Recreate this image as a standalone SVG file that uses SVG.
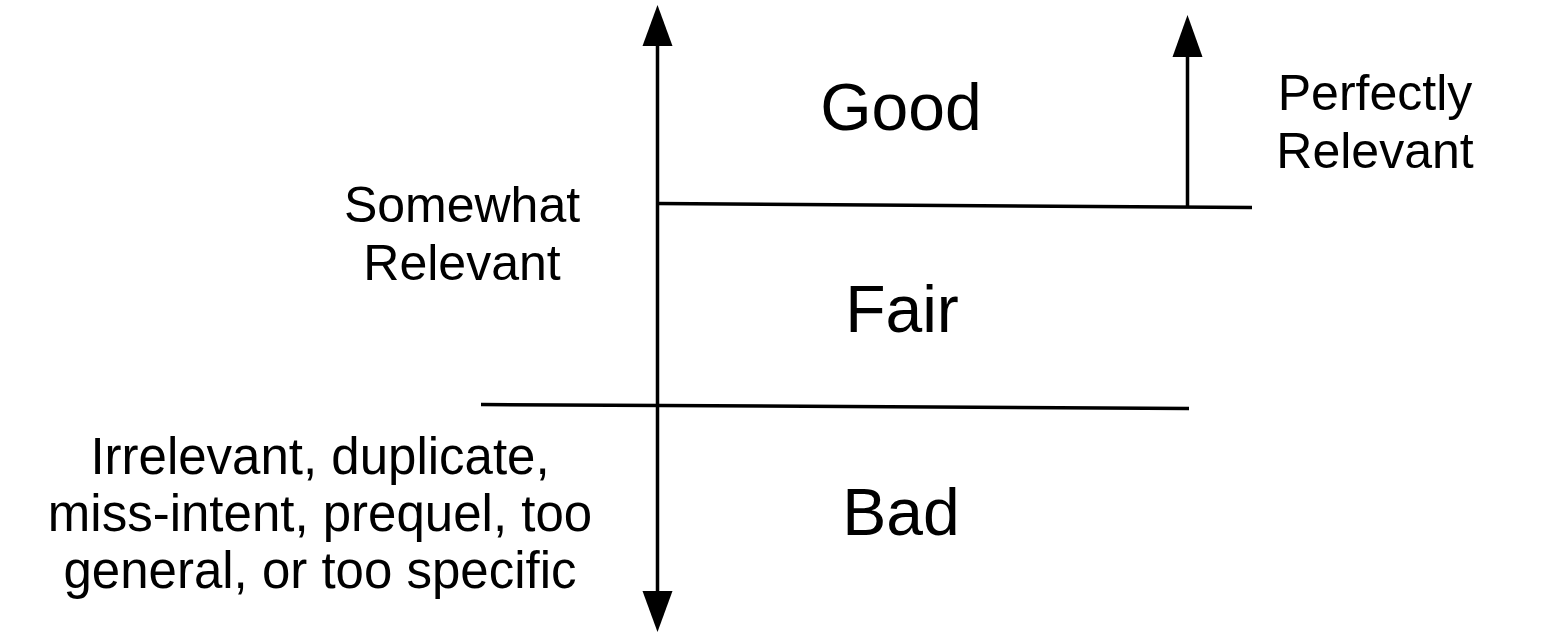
<svg xmlns="http://www.w3.org/2000/svg" width="1549" height="637" viewBox="0 0 1549 637">
<style>
.ln{stroke:#000;stroke-width:3.5;fill:none}
.ah{fill:#000}
text{font-family:"Liberation Sans",Arial,sans-serif;fill:#000;text-anchor:middle}
.big{font-size:66px}
.sm{font-size:50px}
.bl{font-size:51px}
</style>
<rect width="1549" height="637" fill="#fff"/>
<g id="connectors">
<line class="ln" x1="657.5" y1="44" x2="657.5" y2="593"/>
<polygon class="ah" points="657.5,5 642.5,46 672.5,46"/>
<polygon class="ah" points="657.5,632 642.5,591 672.5,591"/>
<line class="ln" x1="657" y1="203.5" x2="1252" y2="207.5"/>
<line class="ln" x1="481" y1="404.5" x2="1189" y2="408.5"/>
<line class="ln" x1="1187.5" y1="55" x2="1187.5" y2="207"/>
<polygon class="ah" points="1187.5,15 1172.5,57 1202.5,57"/>
</g>
<g id="good"><text class="big" x="901" y="130">Good</text></g>
<g id="fair"><text class="big" x="902" y="332">Fair</text></g>
<g id="bad"><text class="big" x="901" y="535">Bad</text></g>
<g id="perfectly-relevant"><text class="sm" x="1375" y="110">Perfectly</text><text class="sm" x="1375" y="168">Relevant</text></g>
<g id="somewhat-relevant"><text class="sm" x="462" y="222">Somewhat</text><text class="sm" x="462" y="280">Relevant</text></g>
<g id="irrelevant"><text class="bl" x="320" y="474">Irrelevant, duplicate,</text><text class="bl" x="320" y="531">miss-intent, prequel, too</text><text class="bl" x="320" y="588">general, or too specific</text></g>
</svg>
